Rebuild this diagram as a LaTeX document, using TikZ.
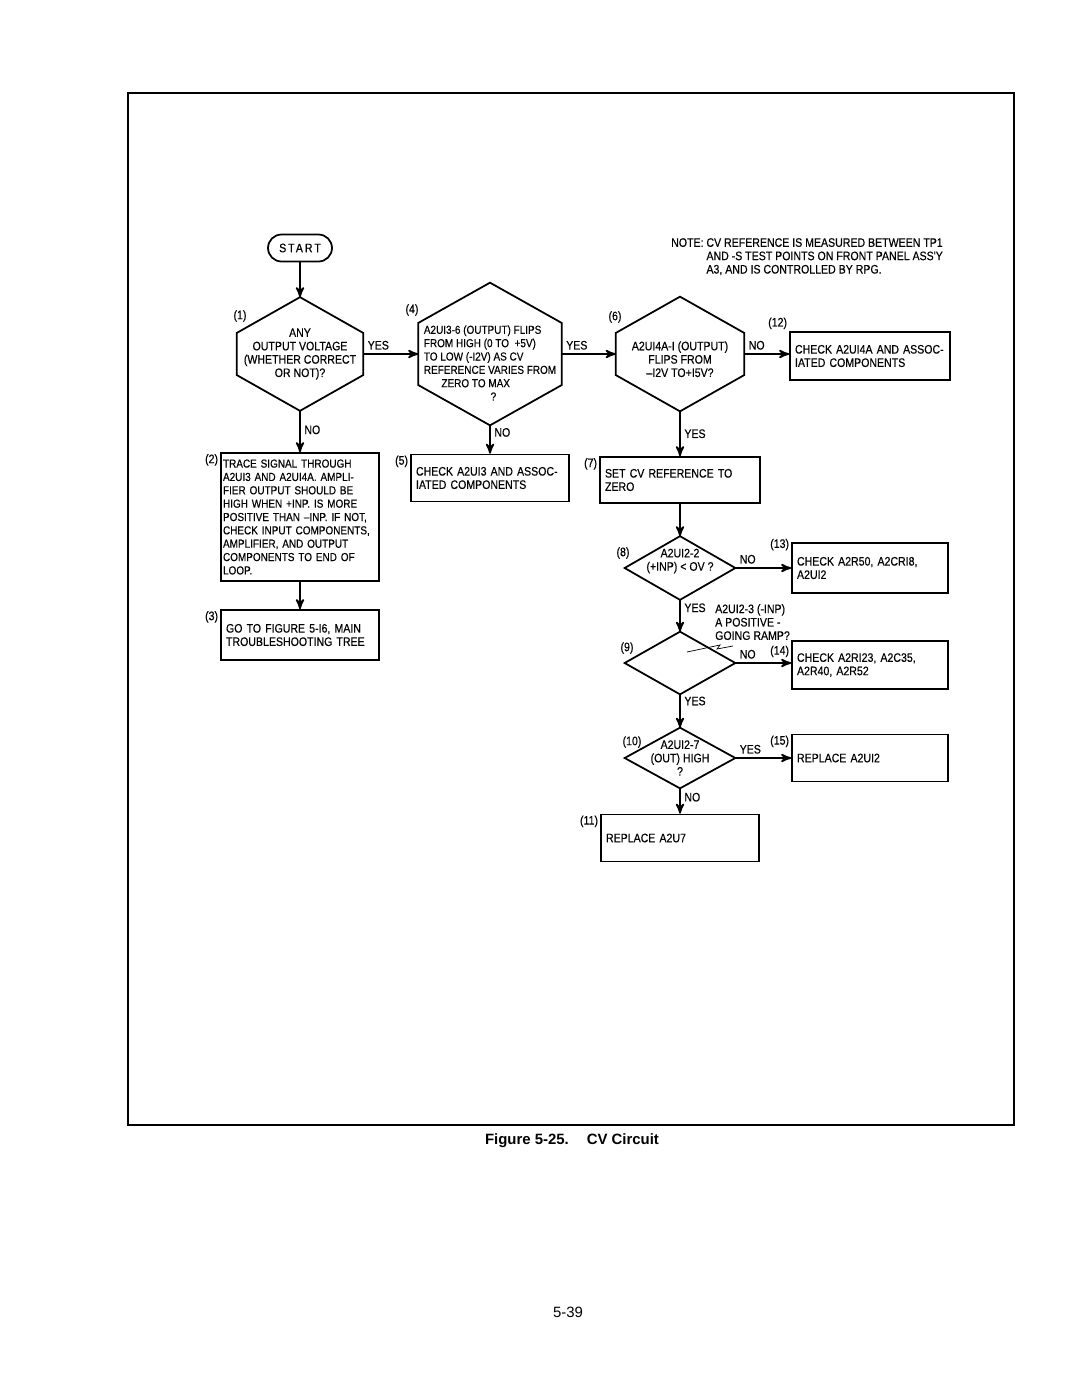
\documentclass[tikz,border=0pt]{standalone}
\usepackage{fontspec}
\setmainfont{Liberation Sans}
\newfontfamily\chartfont[FakeStretch=0.86,FakeBold=0.4]{Liberation Sans}
\usetikzlibrary{positioning}
\usetikzlibrary{arrows}
\tikzset{
    chart/.style={font=\chartfont\fontsize{7}{7.6}\selectfont},
    tight/.style={font=\chartfont\fontsize{6.6}{7.6}\selectfont},
    startbox/.style={
        draw, line width=1pt, rounded corners=0.27cm,
        minimum width=1.28cm, minimum height=0.54cm,
        font=\chartfont\fontsize{7}{8}\selectfont\addfontfeature{LetterSpace=16}
    },
    action/.style={
        chart, draw, line width=1pt,
        align=left, inner xsep=0.1cm, inner ysep=1pt
    },
    question/.style={
        chart, inner sep=0pt, align=center
    },
    num/.style={chart, inner sep=1pt},
    hlab/.style={chart, pos=0, anchor=south west, inner sep=2pt},
    vlab/.style={chart, anchor=west, inner sep=2pt},
    every edge/.append style={
        draw,
        ->,>=stealth',
        line width=1pt
    }
}
% outlines round the invisible question nodes
\newcommand{\drawhex}[2]{\draw[line width=1pt] (#1.north) -- ([yshift=#2]#1.east) -- ([yshift=-#2]#1.east) -- (#1.south) -- ([yshift=-#2]#1.west) -- ([yshift=#2]#1.west) -- cycle;}
\newcommand{\drawdia}[1]{\draw[line width=1pt] (#1.north) -- (#1.east) -- (#1.south) -- (#1.west) -- cycle;}

\begin{document}
\begin{tikzpicture}[x=0.02cm, y=-0.02cm]
    \useasboundingbox (0,0) rectangle (1080,1397);
    \draw[thick] (128,93) rectangle (1014,1125);

    \node[chart, align=left, anchor=north west] (note) at (665,232) {NOTE: CV REFERENCE IS MEASURED BETWEEN TP1\\\phantom{NOTE: }AND -S TEST POINTS ON FRONT PANEL ASS'Y\\\phantom{NOTE: }A3, AND IS CONTROLLED BY RPG.};

    % top row
    \node[startbox] (start) at (300,248) {START};
    \node[question, minimum width=2.52cm, minimum height=2.26cm] (d1) at (300,354) {ANY\\OUTPUT VOLTAGE\\(WHETHER CORRECT\\OR NOT)?};
    \node[question, tight, align=left, minimum width=2.86cm, minimum height=2.84cm] (d4) at (490,354) {\rule{0pt}{15pt}A2UI3-6 (OUTPUT) FLIPS\\FROM HIGH (0 TO\ \ +5V)\\TO LOW (-I2V) AS CV\\REFERENCE VARIES FROM\\\hspace*{10pt}ZERO TO MAX\\\hspace*{38pt}?};
    \node[question, minimum width=2.56cm, minimum height=2.28cm] (d6) at (680,354) {\rule{0pt}{11pt}A2UI4A-I (OUTPUT)\\FLIPS FROM\\–I2V TO+I5V?};
    \drawhex{d1}{0.42cm}
    \drawhex{d4}{0.62cm}
    \drawhex{d6}{0.42cm}
    \node[num] (n1) at (240,316) {(1)};
    \node[num] (n4) at (412,310) {(4)};
    \node[num] (n6) at (615,317) {(6)};

    \node[action, text width=3.0cm, minimum height=0.96cm] (b12) at (870,356) {CHECK A2UI4A AND ASSOC-\\IATED COMPONENTS};

    % boxes below
    \node[action, tight, inner xsep=0.04cm, text width=3.08cm, minimum height=2.56cm] (b2) at (300,517) {TRACE SIGNAL THROUGH\\A2UI3 AND A2UI4A. AMPLI-\\FIER OUTPUT SHOULD BE\\HIGH WHEN +INP. IS MORE\\POSITIVE THAN –INP. IF NOT,\\CHECK INPUT COMPONENTS,\\AMPLIFIER, AND OUTPUT\\COMPONENTS TO END OF\\LOOP.};
    \node[action, text width=2.96cm, minimum height=1.0cm] (b3) at (300,635) {GO TO FIGURE 5-I6, MAIN\\TROUBLESHOOTING TREE};
    \node[action, text width=2.96cm, minimum height=0.94cm] (b5) at (490,478) {CHECK A2UI3 AND ASSOC-\\IATED COMPONENTS};
    \node[action, text width=3.0cm, minimum height=0.92cm] (b7) at (680,480) {SET CV REFERENCE TO\\ZERO};

    % right column
    \node[question, minimum width=2.2cm, minimum height=1.26cm] (d8) at (680,568) {};
    \node[chart, align=center] (d8q) at (680,561) {A2UI2-2\\(+INP) < OV ?};
    \node[question, minimum width=2.2cm, minimum height=1.24cm] (d9) at (680,663) {};
    \node[chart, align=left, anchor=north west] (d9q) at (709,598) {A2UI2-3 (-INP)\\A POSITIVE -\\GOING RAMP?};
    \node[question, minimum width=2.2cm, minimum height=1.2cm] (d10) at (680,758) {A2UI2-7\\(OUT) HIGH\\?};
    \drawdia{d8}
    \drawdia{d9}
    \drawdia{d10}
    \node[num] (n8) at (623,553) {(8)};
    \node[num] (n9) at (627,648) {(9)};
    \node[num] (n10) at (632,742) {(10)};
    \draw[thin] (687,652) -- (720,645) -- (717,649) -- (733,646);

    \node[action, text width=2.92cm, minimum height=1.0cm] (b13) at (870,568) {CHECK A2R50, A2CRI8,\\A2UI2};
    \node[action, text width=2.92cm, minimum height=0.96cm] (b14) at (870,665) {CHECK A2RI23, A2C35,\\A2R40, A2R52};
    \node[action, text width=2.92cm, minimum height=0.94cm] (b15) at (870,758) {REPLACE A2UI2};
    \node[action, text width=2.96cm, minimum height=0.94cm] (b11) at (680,838) {REPLACE A2U7};

    % box numbers
    \node[num, anchor=north east] (n2) at (b2.north west) {(2)};
    \node[num, anchor=north east] (n3) at (b3.north west) {(3)};
    \node[num, anchor=north east] (n5) at (b5.north west) {(5)};
    \node[num, anchor=north east] (n7) at (b7.north west) {(7)};
    \node[num, anchor=south east] (n12) at (b12.north west) {(12)};
    \node[num, anchor=north east, yshift=3pt] (n13) at (b13.north west) {(13)};
    \node[num, anchor=north east, yshift=-2pt] (n14) at (b14.north west) {(14)};
    \node[num, anchor=north east] (n15) at (b15.north west) {(15)};
    \node[num, anchor=north east] (n11) at (b11.north west) {(11)};

    \draw (start) edge (d1);
    \draw (d1) edge node[hlab] {YES} (d4)
        edge node[vlab, pos=0.46] {NO} (b2);
    \draw (b2) edge (b3);
    \draw (d4) edge node[hlab] {YES} (d6)
        edge node[vlab, pos=0.25] {NO} (b5);
    \draw (d6) edge node[hlab] {NO} (d6 -| b12.west)
        edge node[vlab, pos=0.5] {YES} (b7);
    \draw (b7) edge (d8);
    \draw (d8) edge node[hlab] {NO} (b13)
        edge node[vlab, pos=0.25] {YES} (d9);
    \draw (d9) edge node[hlab] {NO} (d9 -| b14.west)
        edge node[vlab, pos=0.2] {YES} (d10);
    \draw (d10) edge node[hlab] {YES} (b15)
        edge node[vlab, pos=0.35] {NO} (b11);

    \node[font=\bfseries\fontsize{8.5}{10}\selectfont] (caption) at (572,1141) {Figure 5-25.\hspace{1.2em}CV Circuit};
    \node[font=\fontsize{8.5}{10}\selectfont] (page) at (568,1312) {5-39};
\end{tikzpicture}
\end{document}
